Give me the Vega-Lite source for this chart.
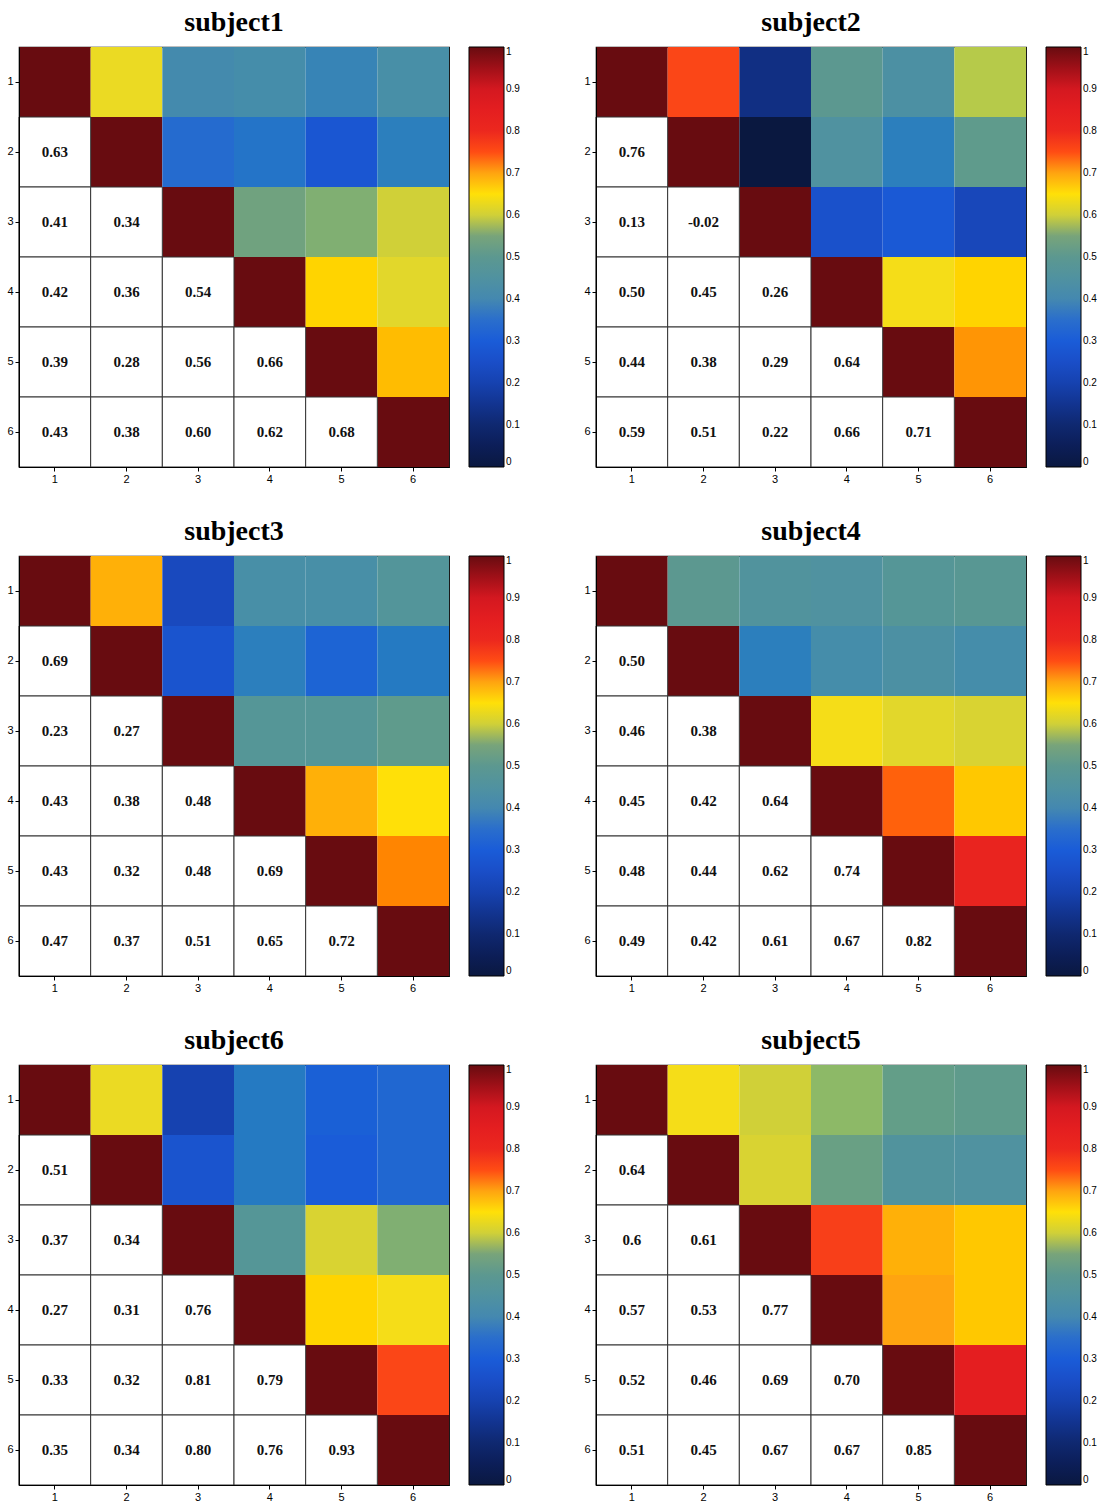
{
  "$schema": "https://vega.github.io/schema/vega-lite/v6.json",
  "background": "white",
  "padding": {"left": 6, "top": 8, "right": 0, "bottom": 0},
  "config": {
    "view": {"stroke": "#000", "strokeWidth": 1.2},
    "title": {"font": "Liberation Serif", "fontSize": 28, "fontWeight": "bold", "color": "#000", "offset": 10},
    "axis": {"labelFont": "Liberation Sans", "labelFontSize": 11, "labelColor": "#000", "domainColor": "#000", "tickColor": "#000", "tickSize": 4, "labelPadding": 2, "labelAngle": 0, "grid": false, "title": null},
    "legend": {"labelFont": "Liberation Sans", "labelFontSize": 10, "labelColor": "#000"}
  },
  "data": {"values": [
    {"s":"subject1","r":1,"c":1,"u":1},{"s":"subject1","r":2,"c":2,"u":1},{"s":"subject1","r":3,"c":3,"u":1},{"s":"subject1","r":4,"c":4,"u":1},{"s":"subject1","r":5,"c":5,"u":1},{"s":"subject1","r":6,"c":6,"u":1},
    {"s":"subject1","r":2,"c":1,"t":"0.63","u":0.63},
    {"s":"subject1","r":3,"c":1,"t":"0.41","u":0.41},{"s":"subject1","r":3,"c":2,"t":"0.34","u":0.34},
    {"s":"subject1","r":4,"c":1,"t":"0.42","u":0.42},{"s":"subject1","r":4,"c":2,"t":"0.36","u":0.36},{"s":"subject1","r":4,"c":3,"t":"0.54","u":0.54},
    {"s":"subject1","r":5,"c":1,"t":"0.39","u":0.39},{"s":"subject1","r":5,"c":2,"t":"0.28","u":0.28},{"s":"subject1","r":5,"c":3,"t":"0.56","u":0.56},{"s":"subject1","r":5,"c":4,"t":"0.66","u":0.66},
    {"s":"subject1","r":6,"c":1,"t":"0.43","u":0.43},{"s":"subject1","r":6,"c":2,"t":"0.38","u":0.38},{"s":"subject1","r":6,"c":3,"t":"0.60","u":0.60},{"s":"subject1","r":6,"c":4,"t":"0.62","u":0.62},{"s":"subject1","r":6,"c":5,"t":"0.68","u":0.68},

    {"s":"subject2","r":1,"c":1,"u":1},{"s":"subject2","r":2,"c":2,"u":1},{"s":"subject2","r":3,"c":3,"u":1},{"s":"subject2","r":4,"c":4,"u":1},{"s":"subject2","r":5,"c":5,"u":1},{"s":"subject2","r":6,"c":6,"u":1},
    {"s":"subject2","r":2,"c":1,"t":"0.76","u":0.76},
    {"s":"subject2","r":3,"c":1,"t":"0.13","u":0.13},{"s":"subject2","r":3,"c":2,"t":"-0.02","u":-0.02},
    {"s":"subject2","r":4,"c":1,"t":"0.50","u":0.50},{"s":"subject2","r":4,"c":2,"t":"0.45","u":0.45},{"s":"subject2","r":4,"c":3,"t":"0.26","u":0.26},
    {"s":"subject2","r":5,"c":1,"t":"0.44","u":0.44},{"s":"subject2","r":5,"c":2,"t":"0.38","u":0.38},{"s":"subject2","r":5,"c":3,"t":"0.29","u":0.29},{"s":"subject2","r":5,"c":4,"t":"0.64","u":0.64},
    {"s":"subject2","r":6,"c":1,"t":"0.59","u":0.59},{"s":"subject2","r":6,"c":2,"t":"0.51","u":0.51},{"s":"subject2","r":6,"c":3,"t":"0.22","u":0.22},{"s":"subject2","r":6,"c":4,"t":"0.66","u":0.66},{"s":"subject2","r":6,"c":5,"t":"0.71","u":0.71},

    {"s":"subject3","r":1,"c":1,"u":1},{"s":"subject3","r":2,"c":2,"u":1},{"s":"subject3","r":3,"c":3,"u":1},{"s":"subject3","r":4,"c":4,"u":1},{"s":"subject3","r":5,"c":5,"u":1},{"s":"subject3","r":6,"c":6,"u":1},
    {"s":"subject3","r":2,"c":1,"t":"0.69","u":0.69},
    {"s":"subject3","r":3,"c":1,"t":"0.23","u":0.23},{"s":"subject3","r":3,"c":2,"t":"0.27","u":0.27},
    {"s":"subject3","r":4,"c":1,"t":"0.43","u":0.43},{"s":"subject3","r":4,"c":2,"t":"0.38","u":0.38},{"s":"subject3","r":4,"c":3,"t":"0.48","u":0.48},
    {"s":"subject3","r":5,"c":1,"t":"0.43","u":0.43},{"s":"subject3","r":5,"c":2,"t":"0.32","u":0.32},{"s":"subject3","r":5,"c":3,"t":"0.48","u":0.48},{"s":"subject3","r":5,"c":4,"t":"0.69","u":0.69},
    {"s":"subject3","r":6,"c":1,"t":"0.47","u":0.47},{"s":"subject3","r":6,"c":2,"t":"0.37","u":0.37},{"s":"subject3","r":6,"c":3,"t":"0.51","u":0.51},{"s":"subject3","r":6,"c":4,"t":"0.65","u":0.65},{"s":"subject3","r":6,"c":5,"t":"0.72","u":0.72},

    {"s":"subject4","r":1,"c":1,"u":1},{"s":"subject4","r":2,"c":2,"u":1},{"s":"subject4","r":3,"c":3,"u":1},{"s":"subject4","r":4,"c":4,"u":1},{"s":"subject4","r":5,"c":5,"u":1},{"s":"subject4","r":6,"c":6,"u":1},
    {"s":"subject4","r":2,"c":1,"t":"0.50","u":0.50},
    {"s":"subject4","r":3,"c":1,"t":"0.46","u":0.46},{"s":"subject4","r":3,"c":2,"t":"0.38","u":0.38},
    {"s":"subject4","r":4,"c":1,"t":"0.45","u":0.45},{"s":"subject4","r":4,"c":2,"t":"0.42","u":0.42},{"s":"subject4","r":4,"c":3,"t":"0.64","u":0.64},
    {"s":"subject4","r":5,"c":1,"t":"0.48","u":0.48},{"s":"subject4","r":5,"c":2,"t":"0.44","u":0.44},{"s":"subject4","r":5,"c":3,"t":"0.62","u":0.62},{"s":"subject4","r":5,"c":4,"t":"0.74","u":0.74},
    {"s":"subject4","r":6,"c":1,"t":"0.49","u":0.49},{"s":"subject4","r":6,"c":2,"t":"0.42","u":0.42},{"s":"subject4","r":6,"c":3,"t":"0.61","u":0.61},{"s":"subject4","r":6,"c":4,"t":"0.67","u":0.67},{"s":"subject4","r":6,"c":5,"t":"0.82","u":0.82},

    {"s":"subject6","r":1,"c":1,"u":1},{"s":"subject6","r":2,"c":2,"u":1},{"s":"subject6","r":3,"c":3,"u":1},{"s":"subject6","r":4,"c":4,"u":1},{"s":"subject6","r":5,"c":5,"u":1},{"s":"subject6","r":6,"c":6,"u":1},
    {"s":"subject6","r":2,"c":1,"t":"0.51","u":0.63},
    {"s":"subject6","r":3,"c":1,"t":"0.37","u":0.20},{"s":"subject6","r":3,"c":2,"t":"0.34","u":0.27},
    {"s":"subject6","r":4,"c":1,"t":"0.27","u":0.37},{"s":"subject6","r":4,"c":2,"t":"0.31","u":0.37},{"s":"subject6","r":4,"c":3,"t":"0.76","u":0.48},
    {"s":"subject6","r":5,"c":1,"t":"0.33","u":0.31},{"s":"subject6","r":5,"c":2,"t":"0.32","u":0.30},{"s":"subject6","r":5,"c":3,"t":"0.81","u":0.61},{"s":"subject6","r":5,"c":4,"t":"0.79","u":0.66},
    {"s":"subject6","r":6,"c":1,"t":"0.35","u":0.33},{"s":"subject6","r":6,"c":2,"t":"0.34","u":0.33},{"s":"subject6","r":6,"c":3,"t":"0.80","u":0.56},{"s":"subject6","r":6,"c":4,"t":"0.76","u":0.64},{"s":"subject6","r":6,"c":5,"t":"0.93","u":0.76},

    {"s":"subject5","r":1,"c":1,"u":1},{"s":"subject5","r":2,"c":2,"u":1},{"s":"subject5","r":3,"c":3,"u":1},{"s":"subject5","r":4,"c":4,"u":1},{"s":"subject5","r":5,"c":5,"u":1},{"s":"subject5","r":6,"c":6,"u":1},
    {"s":"subject5","r":2,"c":1,"t":"0.64","u":0.64},
    {"s":"subject5","r":3,"c":1,"t":"0.6","u":0.60},{"s":"subject5","r":3,"c":2,"t":"0.61","u":0.61},
    {"s":"subject5","r":4,"c":1,"t":"0.57","u":0.57},{"s":"subject5","r":4,"c":2,"t":"0.53","u":0.53},{"s":"subject5","r":4,"c":3,"t":"0.77","u":0.77},
    {"s":"subject5","r":5,"c":1,"t":"0.52","u":0.52},{"s":"subject5","r":5,"c":2,"t":"0.46","u":0.46},{"s":"subject5","r":5,"c":3,"t":"0.69","u":0.69},{"s":"subject5","r":5,"c":4,"t":"0.70","u":0.70},
    {"s":"subject5","r":6,"c":1,"t":"0.51","u":0.51},{"s":"subject5","r":6,"c":2,"t":"0.45","u":0.45},{"s":"subject5","r":6,"c":3,"t":"0.67","u":0.67},{"s":"subject5","r":6,"c":4,"t":"0.67","u":0.67},{"s":"subject5","r":6,"c":5,"t":"0.85","u":0.85}
  ]},
  "spacing": 32,
  "resolve": {"scale": {"color": "independent", "x": "independent", "y": "independent"}, "legend": {"color": "independent"}},
  "vconcat": [
    {"spacing": 62, "resolve": {"scale": {"color": "independent", "x": "independent", "y": "independent"}, "legend": {"color": "independent"}},
     "hconcat": [
      {"title": "subject1", "width": 430, "height": 420, "transform": [{"filter": "datum.s === 'subject1'"}],
       "layer": [
        {"mark": {"type": "rect"}, "encoding": {"x": {"field": "r", "type": "ordinal", "scale": {"domain": [1,2,3,4,5,6], "paddingInner": 0, "paddingOuter": 0}}, "y": {"field": "c", "type": "ordinal", "scale": {"domain": [1,2,3,4,5,6], "paddingInner": 0, "paddingOuter": 0}}, "color": {"field": "u", "type": "quantitative", "scale": {"domain": [0, 1], "clamp": true, "range": ["#0a1840","#0c1e58","#0f2870","#123490","#1642b0","#1a4ec8","#1a5cd8","#2a6ecc","#4488b0","#5092a0","#5c9890","#78a47a","#d0d038","#ffe008","#ffa410","#ff4c14","#ec281e","#e41e20","#d41820","#a01018","#680c10"]}, "legend": {"title": null, "orient": "right", "offset": 20, "gradientLength": 420, "gradientThickness": 35, "values": [0,0.1,0.2,0.3,0.4,0.5,0.6,0.7,0.8,0.9,1], "format": "~g", "labelOverlap": false, "gradientStrokeColor": "#000", "gradientStrokeWidth": 1}}}},
        {"transform": [{"filter": "datum.r > datum.c"}], "mark": {"type": "rect", "fill": "white", "stroke": "#333", "strokeWidth": 1}, "encoding": {"x": {"field": "c", "type": "ordinal"}, "y": {"field": "r", "type": "ordinal"}}},
        {"transform": [{"filter": "datum.r > datum.c"}], "mark": {"type": "text", "font": "Liberation Serif", "fontWeight": "bold", "fontSize": 15, "color": "#111"}, "encoding": {"x": {"field": "c", "type": "ordinal"}, "y": {"field": "r", "type": "ordinal"}, "text": {"field": "t"}}}
       ]},
      {"title": "subject2", "width": 430, "height": 420, "transform": [{"filter": "datum.s === 'subject2'"}],
       "layer": [
        {"mark": {"type": "rect"}, "encoding": {"x": {"field": "r", "type": "ordinal", "scale": {"domain": [1,2,3,4,5,6], "paddingInner": 0, "paddingOuter": 0}}, "y": {"field": "c", "type": "ordinal", "scale": {"domain": [1,2,3,4,5,6], "paddingInner": 0, "paddingOuter": 0}}, "color": {"field": "u", "type": "quantitative", "scale": {"domain": [0, 1], "clamp": true, "range": ["#0a1840","#0c1e58","#0f2870","#123490","#1642b0","#1a4ec8","#1a5cd8","#2a6ecc","#4488b0","#5092a0","#5c9890","#78a47a","#d0d038","#ffe008","#ffa410","#ff4c14","#ec281e","#e41e20","#d41820","#a01018","#680c10"]}, "legend": {"title": null, "orient": "right", "offset": 20, "gradientLength": 420, "gradientThickness": 35, "values": [0,0.1,0.2,0.3,0.4,0.5,0.6,0.7,0.8,0.9,1], "format": "~g", "labelOverlap": false, "gradientStrokeColor": "#000", "gradientStrokeWidth": 1}}}},
        {"transform": [{"filter": "datum.r > datum.c"}], "mark": {"type": "rect", "fill": "white", "stroke": "#333", "strokeWidth": 1}, "encoding": {"x": {"field": "c", "type": "ordinal"}, "y": {"field": "r", "type": "ordinal"}}},
        {"transform": [{"filter": "datum.r > datum.c"}], "mark": {"type": "text", "font": "Liberation Serif", "fontWeight": "bold", "fontSize": 15, "color": "#111"}, "encoding": {"x": {"field": "c", "type": "ordinal"}, "y": {"field": "r", "type": "ordinal"}, "text": {"field": "t"}}}
       ]}
    ]},
    {"spacing": 62, "resolve": {"scale": {"color": "independent", "x": "independent", "y": "independent"}, "legend": {"color": "independent"}},
     "hconcat": [
      {"title": "subject3", "width": 430, "height": 420, "transform": [{"filter": "datum.s === 'subject3'"}],
       "layer": [
        {"mark": {"type": "rect"}, "encoding": {"x": {"field": "r", "type": "ordinal", "scale": {"domain": [1,2,3,4,5,6], "paddingInner": 0, "paddingOuter": 0}}, "y": {"field": "c", "type": "ordinal", "scale": {"domain": [1,2,3,4,5,6], "paddingInner": 0, "paddingOuter": 0}}, "color": {"field": "u", "type": "quantitative", "scale": {"domain": [0, 1], "clamp": true, "range": ["#0a1840","#0c1e58","#0f2870","#123490","#1642b0","#1a4ec8","#1a5cd8","#2a6ecc","#4488b0","#5092a0","#5c9890","#78a47a","#d0d038","#ffe008","#ffa410","#ff4c14","#ec281e","#e41e20","#d41820","#a01018","#680c10"]}, "legend": {"title": null, "orient": "right", "offset": 20, "gradientLength": 420, "gradientThickness": 35, "values": [0,0.1,0.2,0.3,0.4,0.5,0.6,0.7,0.8,0.9,1], "format": "~g", "labelOverlap": false, "gradientStrokeColor": "#000", "gradientStrokeWidth": 1}}}},
        {"transform": [{"filter": "datum.r > datum.c"}], "mark": {"type": "rect", "fill": "white", "stroke": "#333", "strokeWidth": 1}, "encoding": {"x": {"field": "c", "type": "ordinal"}, "y": {"field": "r", "type": "ordinal"}}},
        {"transform": [{"filter": "datum.r > datum.c"}], "mark": {"type": "text", "font": "Liberation Serif", "fontWeight": "bold", "fontSize": 15, "color": "#111"}, "encoding": {"x": {"field": "c", "type": "ordinal"}, "y": {"field": "r", "type": "ordinal"}, "text": {"field": "t"}}}
       ]},
      {"title": "subject4", "width": 430, "height": 420, "transform": [{"filter": "datum.s === 'subject4'"}],
       "layer": [
        {"mark": {"type": "rect"}, "encoding": {"x": {"field": "r", "type": "ordinal", "scale": {"domain": [1,2,3,4,5,6], "paddingInner": 0, "paddingOuter": 0}}, "y": {"field": "c", "type": "ordinal", "scale": {"domain": [1,2,3,4,5,6], "paddingInner": 0, "paddingOuter": 0}}, "color": {"field": "u", "type": "quantitative", "scale": {"domain": [0, 1], "clamp": true, "range": ["#0a1840","#0c1e58","#0f2870","#123490","#1642b0","#1a4ec8","#1a5cd8","#2a6ecc","#4488b0","#5092a0","#5c9890","#78a47a","#d0d038","#ffe008","#ffa410","#ff4c14","#ec281e","#e41e20","#d41820","#a01018","#680c10"]}, "legend": {"title": null, "orient": "right", "offset": 20, "gradientLength": 420, "gradientThickness": 35, "values": [0,0.1,0.2,0.3,0.4,0.5,0.6,0.7,0.8,0.9,1], "format": "~g", "labelOverlap": false, "gradientStrokeColor": "#000", "gradientStrokeWidth": 1}}}},
        {"transform": [{"filter": "datum.r > datum.c"}], "mark": {"type": "rect", "fill": "white", "stroke": "#333", "strokeWidth": 1}, "encoding": {"x": {"field": "c", "type": "ordinal"}, "y": {"field": "r", "type": "ordinal"}}},
        {"transform": [{"filter": "datum.r > datum.c"}], "mark": {"type": "text", "font": "Liberation Serif", "fontWeight": "bold", "fontSize": 15, "color": "#111"}, "encoding": {"x": {"field": "c", "type": "ordinal"}, "y": {"field": "r", "type": "ordinal"}, "text": {"field": "t"}}}
       ]}
    ]},
    {"spacing": 62, "resolve": {"scale": {"color": "independent", "x": "independent", "y": "independent"}, "legend": {"color": "independent"}},
     "hconcat": [
      {"title": "subject6", "width": 430, "height": 420, "transform": [{"filter": "datum.s === 'subject6'"}],
       "layer": [
        {"mark": {"type": "rect"}, "encoding": {"x": {"field": "r", "type": "ordinal", "scale": {"domain": [1,2,3,4,5,6], "paddingInner": 0, "paddingOuter": 0}}, "y": {"field": "c", "type": "ordinal", "scale": {"domain": [1,2,3,4,5,6], "paddingInner": 0, "paddingOuter": 0}}, "color": {"field": "u", "type": "quantitative", "scale": {"domain": [0, 1], "clamp": true, "range": ["#0a1840","#0c1e58","#0f2870","#123490","#1642b0","#1a4ec8","#1a5cd8","#2a6ecc","#4488b0","#5092a0","#5c9890","#78a47a","#d0d038","#ffe008","#ffa410","#ff4c14","#ec281e","#e41e20","#d41820","#a01018","#680c10"]}, "legend": {"title": null, "orient": "right", "offset": 20, "gradientLength": 420, "gradientThickness": 35, "values": [0,0.1,0.2,0.3,0.4,0.5,0.6,0.7,0.8,0.9,1], "format": "~g", "labelOverlap": false, "gradientStrokeColor": "#000", "gradientStrokeWidth": 1}}}},
        {"transform": [{"filter": "datum.r > datum.c"}], "mark": {"type": "rect", "fill": "white", "stroke": "#333", "strokeWidth": 1}, "encoding": {"x": {"field": "c", "type": "ordinal"}, "y": {"field": "r", "type": "ordinal"}}},
        {"transform": [{"filter": "datum.r > datum.c"}], "mark": {"type": "text", "font": "Liberation Serif", "fontWeight": "bold", "fontSize": 15, "color": "#111"}, "encoding": {"x": {"field": "c", "type": "ordinal"}, "y": {"field": "r", "type": "ordinal"}, "text": {"field": "t"}}}
       ]},
      {"title": "subject5", "width": 430, "height": 420, "transform": [{"filter": "datum.s === 'subject5'"}],
       "layer": [
        {"mark": {"type": "rect"}, "encoding": {"x": {"field": "r", "type": "ordinal", "scale": {"domain": [1,2,3,4,5,6], "paddingInner": 0, "paddingOuter": 0}}, "y": {"field": "c", "type": "ordinal", "scale": {"domain": [1,2,3,4,5,6], "paddingInner": 0, "paddingOuter": 0}}, "color": {"field": "u", "type": "quantitative", "scale": {"domain": [0, 1], "clamp": true, "range": ["#0a1840","#0c1e58","#0f2870","#123490","#1642b0","#1a4ec8","#1a5cd8","#2a6ecc","#4488b0","#5092a0","#5c9890","#78a47a","#d0d038","#ffe008","#ffa410","#ff4c14","#ec281e","#e41e20","#d41820","#a01018","#680c10"]}, "legend": {"title": null, "orient": "right", "offset": 20, "gradientLength": 420, "gradientThickness": 35, "values": [0,0.1,0.2,0.3,0.4,0.5,0.6,0.7,0.8,0.9,1], "format": "~g", "labelOverlap": false, "gradientStrokeColor": "#000", "gradientStrokeWidth": 1}}}},
        {"transform": [{"filter": "datum.r > datum.c"}], "mark": {"type": "rect", "fill": "white", "stroke": "#333", "strokeWidth": 1}, "encoding": {"x": {"field": "c", "type": "ordinal"}, "y": {"field": "r", "type": "ordinal"}}},
        {"transform": [{"filter": "datum.r > datum.c"}], "mark": {"type": "text", "font": "Liberation Serif", "fontWeight": "bold", "fontSize": 15, "color": "#111"}, "encoding": {"x": {"field": "c", "type": "ordinal"}, "y": {"field": "r", "type": "ordinal"}, "text": {"field": "t"}}}
       ]}
    ]}
  ]
}
